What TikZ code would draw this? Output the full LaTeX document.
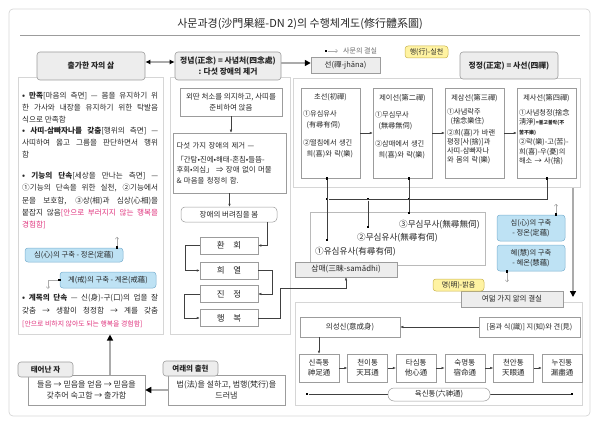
\documentclass[tikz,border=0pt]{standalone}
\usepackage{fontspec}
\setmainfont{Noto Sans CJK KR}
\usepackage{tikz}
\usetikzlibrary{positioning,arrows.meta}
\usepackage{xcolor}
\definecolor{linegray}{HTML}{9C9C9C}
\definecolor{panelgray}{HTML}{D6D6D6}
\definecolor{headfill}{HTML}{EDEDED}
\definecolor{bluefill}{HTML}{BEE2F4}
\definecolor{blueline}{HTML}{7BB0D0}
\definecolor{tagfill}{HTML}{FFF3A2}
\definecolor{tagline}{HTML}{C9B34C}
\definecolor{pinktext}{HTML}{E0347E}
\definecolor{inktext}{HTML}{262626}
\definecolor{arrowgray}{HTML}{ABABAB}
\newcommand{\fsz}[2]{\fontsize{#1}{#2}\selectfont}
\newcommand{\pink}[1]{\textcolor{pinktext}{#1}}

\begin{document}
\begin{tikzpicture}[x=1pt, y=-1pt, text=inktext,
  panel/.style={draw=panelgray, fill=white, line width=0.6pt, inner sep=0pt},
  headbox/.style={draw=linegray, fill=headfill, rounded corners=3pt, line width=0.6pt, align=center, inner sep=1pt, font=\fsz{7.8}{10.5}\bfseries},
  graybox/.style={draw=linegray, fill=headfill, line width=0.5pt, align=center, inner sep=1pt, font=\fsz{7.5}{9}},
  plainbox/.style={draw=linegray, fill=white, line width=0.5pt, align=center, inner sep=1pt, font=\fsz{7.5}{10.5}},
  roundbox/.style={plainbox, rounded corners=4pt},
  stepbox/.style={plainbox, minimum width=58, minimum height=17, font=\fsz{8.5}{9}},
  bluebox/.style={draw=blueline, fill=bluefill, rounded corners=3pt, line width=0.5pt, align=center, inner sep=1pt, font=\fsz{7.3}{9.8}},
  tagbox/.style={draw=tagline, fill=tagfill, rounded corners=3pt, line width=0.5pt, inner sep=1pt, font=\fsz{7}{8}},
  jbox/.style={draw=linegray, fill=white, line width=0.5pt, minimum width=59, minimum height=90, inner sep=0pt},
  jtext/.style={text width=55pt, align=left, inner sep=0pt},
  ptext/.style={text width=136pt, align=justify, inner sep=0pt, font=\fsz{7.6}{11.8}},
  lbl/.style={inner sep=0pt, font=\fsz{8.6}{9}},
  sqdot/.style={fill=black, inner sep=0pt, minimum size=2.6pt},
  conn/.style={draw=black!75, line width=0.45pt},
  arr/.style={conn, -{Latex[length=3pt, width=2.4pt]}},
  hint/.style={draw=arrowgray, line width=0.5pt, -{Straight Barb[length=2pt, width=3.5pt]}},
  heavyarr/.style={draw=arrowgray, line width=2.4pt, -{Triangle[color=black, length=6pt, width=6pt]}}
]
  \useasboundingbox (0,0) rectangle (600,425);
  \draw[panelgray, line width=0.7pt, rounded corners=4pt] (9,9) rectangle (590,416);
  \node[font=\fsz{11}{13}] (title) at (300,24) {사문과경(沙門果經-DN 2)의 수행체계도(修行體系圖)};
  \draw[linegray, line width=0.8pt] (20,35) -- (580,35);

  % panels
  \node[panel, anchor=north west, minimum width=145, minimum height=257] (leftpanel) at (18,77) {};
  \node[panel, anchor=north west, minimum width=120, minimum height=257] (midpanel) at (170,77) {};
  \node[panel, anchor=north west, minimum width=287, minimum height=109] (jpanel) at (293,78) {};
  \node[panel, anchor=north west, minimum width=287, minimum height=103] (lowpanel) at (295,302) {};

  % headers
  \node[headbox, minimum width=108, minimum height=28] (chulga) at (91,66) {출가한 자의 삶};
  \node[headbox, minimum width=106, minimum height=28] (jn) at (228,66) {정념(正念) = 사념처(四念處)\\: 다섯 장애의 제거};
  \node[graybox, minimum width=69, minimum height=16] (seon) at (345.5,65) {선(禪-jhāna)};
  \node[headbox, minimum width=98, minimum height=27] (jj) at (509,65.5) {정정(正定) = 사선(四禪)};
  \node[tagbox, minimum width=43, minimum height=12] (haeng) at (426.5,52) {행(行)-실천};
  \draw[{Latex[color=black, length=5pt, width=5pt]}-{Latex[color=black, length=5pt, width=5pt]}, draw=arrowgray, line width=1.6pt] ([yshift=4pt]chulga.east) -- ([yshift=4pt]jn.west);
  \draw[heavyarr] ([yshift=3pt]jn.east) -- ([yshift=3pt]jn.east -| seon.west);

  % legend
  \node[sqdot] (legsq) at (326,51) {};
  \coordinate (legtip) at (338,51);
  \draw[hint] (legsq) -- (legtip);
  \node[anchor=west, inner sep=0pt, font=\fsz{7}{8}, text=black!60] (legtxt) at (343,51) {사문의 결실};

  % left column
  \node[ptext, anchor=north west] (lp1) at (22,92) {\textbf{• 만족}[마음의 측면] — 몸을 유지하기 위\linebreak 한 가사와 내장을 유지하기 위한 탁발음\linebreak 식으로 만족함};
  \node[ptext, anchor=north west] (lp2) at (22,127) {\textbf{• 사띠-삼빠자나를 갖춤}[행위의 측면] —\linebreak 사띠하여 옳고 그름을 판단하면서 행위\linebreak 함};
  \node[ptext, anchor=north west, font=\fsz{7.6}{12.2}] (lp3) at (22,172) {\textbf{• 기능의 단속}[세상을 만나는 측면] —\linebreak ①기능의 단속을 위한 실천, ②기능에서\linebreak 문을 보호함, ③상(相)과 심상(心相)을\linebreak 붙잡지 않음\pink{[안으로 부러지지 않는 행복을\linebreak 경험함]}};
  \node[bluebox, minimum width=98, minimum height=14] (sim1) at (74,255) {심(心)의 구축 - 정온(定蘊)};
  \node[sqdot] (sd1) at ([xshift=43pt]sim1.north) {};
  \coordinate (sd1e) at ([xshift=43pt, yshift=11pt]sim1.north);
  \draw[hint] (sd1) -- (sd1e);
  \node[bluebox, minimum width=96, minimum height=16] (kye) at (108,280) {계(戒)의 구축 - 계온(戒蘊)};
  \node[sqdot] (kd) at (kye.west) {};
  \coordinate (kde) at (48,289);
  \draw[hint] (kd) -| (kde);
  \node[ptext, anchor=north west, font=\fsz{7.6}{13}] (lp4) at (22,294) {\textbf{• 계목의 단속} — 신(身)-구(口)의 업을 잘\linebreak 갖춤 → 생활이 청정함 → 계를 갖춤\linebreak {\fsz{6.9}{13}\pink{[안으로 비하지 않아도 되는 행복을 경험함]}}};

  % born / tathagata
  \node[plainbox, minimum width=117, minimum height=30, font=\fsz{8}{11}] (bornbox) at (86.5,390) {들음 → 믿음을 얻음 → 믿음을\\갖추어 숙고함 → 출가함};
  \node[headbox, minimum width=55, minimum height=15, font=\fsz{7.5}{9}\bfseries] (born) at (45.5,369.5) {태어난 자};
  \node[plainbox, minimum width=117, minimum height=30, font=\fsz{8}{11}] (yrbox) at (226.5,390) {법(法)을 설하고, 범행(梵行)을\\드러냄};
  \node[headbox, minimum width=55, minimum height=15, font=\fsz{7.5}{9}\bfseries] (yeorae) at (190.5,368.5) {여래의 출현};
  \draw[heavyarr] (yrbox.west) -- (bornbox.east);
  \draw[heavyarr] ([xshift=23.5pt]bornbox.north) -- ([xshift=23.5pt]bornbox.north |- leftpanel.south);

  % middle column
  \node[plainbox, minimum width=102, minimum height=28] (sit) at (231,102) {외딴 처소를 의지하고, 사띠를\\준비하여 앉음};
  \node[plainbox, minimum width=113, minimum height=60, align=left, text width=106pt, font=\fsz{7.4}{10.5}] (hind) at (229.5,163) {다섯 가지 장애의 제거 —\\[3pt]「간탐•진에•해태-혼침•들뜸-\\후회•의심」 ⇒ 장애 없이 머물\\\& 마음을 청정히 함.};
  \node[roundbox, minimum width=96, minimum height=15] (seen) at (229,214.5) {장애의 버려짐을 봄};
  \node[stepbox] (h1) at (229,245.5) {환\hspace{1em}회};
  \node[stepbox] (h2) at (229,270.5) {희\hspace{1em}열};
  \node[stepbox] (h3) at (229,294) {진\hspace{1em}정};
  \node[stepbox] (h4) at (229,318) {행\hspace{1em}복};
  \draw[arr] (sit.south) -- (sit.south |- hind.north);
  \draw[arr] (hind.south) -- (hind.south |- seen.north);
  \draw[arr] ([xshift=38pt]seen.south) |- (h1.east);
  \draw[arr] (h1.west) -- ++(-15,0) |- (h2.west);
  \draw[arr] (h2.east) -- ++(14,0) |- (h3.east);
  \draw[arr] (h3.west) -- ++(-16,0) |- (h4.west);

  % four jhanas
  \node[jbox] (j1) at (330.5,133) {};
  \node[jbox] (j2) at (402.5,133) {};
  \node[jbox] (j3) at (474.5,133) {};
  \node[jbox] (j4) at (546.5,133) {};
  \node[jtext, font=\fsz{7.2}{11}, below=6pt of j1.north] (j1t) {\makebox[\linewidth]{초선(初禪)}\\[6pt]①유심유사\\\hspace*{0.5em}(有尋有伺)\\[7pt]②떨침에서 생긴\\\hspace*{0.5em}희(喜)와 락(樂)};
  \node[jtext, font=\fsz{7.2}{11}, below=6pt of j2.north] (j2t) {\makebox[\linewidth]{제이선(第二禪)}\\[6pt]①무심무사\\\hspace*{0.5em}(無尋無伺)\\[7pt]②삼매에서 생긴\\\hspace*{0.5em}희(喜)와 락(樂)};
  \node[jtext, font=\fsz{7.2}{9}, below=6pt of j3.north] (j3t) {\makebox[\linewidth]{제삼선(第三禪)}\\[5pt]①사념락주\\\hspace*{0.5em}(捨念樂住)\\[3pt]②희(喜)가 바랜\\평정[사(捨)]과\\사띠-삼빠자나\\와 몸의 락(樂)};
  \node[jtext, font=\fsz{7.2}{9.5}, below=6pt of j4.north] (j4t) {\makebox[\linewidth]{제사선(第四禪)}\\[5.5pt]①사념청정(捨念\\淸淨){\fsz{5}{9.5}\bfseries =불고불락(不}\\{\fsz{5}{9.5}\bfseries 苦不樂)}\\[1pt]②락(樂)-고(苦)-\\희(喜)-우(憂)의\\해소 → 사(捨)};
  \draw[arr] (j1) -- (j2);
  \draw[arr] (j2) -- (j3);
  \draw[arr] (j3) -- (j4);

  % samadhi stages
  \node[panel, draw=linegray!70, anchor=north west, minimum width=175, minimum height=53] (cbox) at (310,212) {};
  \node[sqdot] (jd1) at ([xshift=-3.5pt]j1.south) {};
  \node[sqdot] (jd2) at ([xshift=6.5pt]j2.south) {};
  \node[sqdot] (jd4) at ([xshift=0.5pt]j4.south) {};
  \node[sqdot] (bus1) at (327,199) {};
  \node[sqdot] (bus2) at (368,199) {};
  \node[sqdot] (bus3) at (409,199) {};
  \coordinate (bus4) at (547,199);
  \node[sqdot] (ld1) at (327,240) {};
  \node[sqdot] (ld2) at (368,227) {};
  \node[sqdot] (ld3) at (409,213) {};
  \draw[conn] (jd1) -- (ld1);
  \draw[conn] (jd2) -- (ld3);
  \draw[conn] (jd4) -- (bus4) -- (bus1);
  \draw[conn] (bus2) -- (ld2);
  \node[lbl, anchor=west] (lab1) at (315,252) {①유심유사(有尋有伺)};
  \node[lbl, anchor=west] (lab2) at (357,238) {②무심유사(無尋有伺)};
  \node[lbl, anchor=west] (lab3) at (399,225) {③무심무사(無尋無伺)};
  \node[graybox, minimum width=102, minimum height=15, font=\fsz{7.8}{9}] (samadhi) at (346,269.5) {삼매(三昧-samādhi)};
  \draw[arr] (h4.east) -| (280,288) -| (samadhi.south);

  % right side
  \node[bluebox, minimum width=68, minimum height=26] (sim2) at (531,228) {심(心)의 구축\\- 정온(定蘊)};
  \node[bluebox, minimum width=68, minimum height=26] (hye) at (531,258) {혜(慧)의 구축\\- 혜온(慧蘊)};
  \node[sqdot] (sd2) at ([xshift=25pt]sim2.north) {};
  \coordinate (sd2e) at ([xshift=25pt, yshift=11pt]sim2.north);
  \draw[hint] (sd2) -- (sd2e);
  \node[sqdot] (hd) at ([xshift=-24pt]hye.south) {};
  \coordinate (hde) at ([xshift=-24pt, yshift=-11pt]hye.south);
  \draw[hint] (hd) -- (hde);
  \coordinate (jdown) at (573,297);
  \draw[heavyarr] (jdown |- jpanel.south) -- (jdown);

  % eight knowledges
  \node[graybox, minimum width=102, minimum height=16] (eight) at (512,299) {여덟 가지 앎의 결실};
  \node[tagbox, minimum width=51, minimum height=12] (myeong) at (458.5,285) {명(明)-밝음};
  \node[plainbox, minimum width=101, minimum height=20, font=\fsz{7.2}{9}] (jigyeon) at (529.5,327) {[몸과 식(識)] 지(知)와 견(見)};
  \node[plainbox, minimum width=100, minimum height=20] (uisung) at (350,327) {의성신(意成身)};
  \draw[arr] (jigyeon) -- (uisung);
  \foreach \nm/\ko/\hj [count=\i from 0] in {s1/신족통/神足通, s2/천이통/天耳通, s3/타심통/他心通, s4/숙명통/宿命通, s5/천안통/天眼通, s6/누진통/漏盡通}
    \node[plainbox, minimum width=40, minimum height=28, font=\fsz{7.5}{10}] (\nm) at (319+48.6*\i,368) {\ko\\\hj};
  \foreach \a/\b in {s1/s2, s2/s3, s3/s4, s4/s5, s5/s6}
    \draw[arr] (\a) -- (\b);
  \draw[arr] (s1.north |- uisung.south) -- (s1.north);
  \node[sqdot] (yd1) at (307,394) {};
  \node[sqdot] (yd2) at (572,394) {};
  \draw[conn] (yd1) -- (yd2);
  \node[roundbox, rounded corners=6pt, minimum width=102, minimum height=13] (yuk) at (439,394.5) {육신통(六神通)};
\end{tikzpicture}
\end{document}
